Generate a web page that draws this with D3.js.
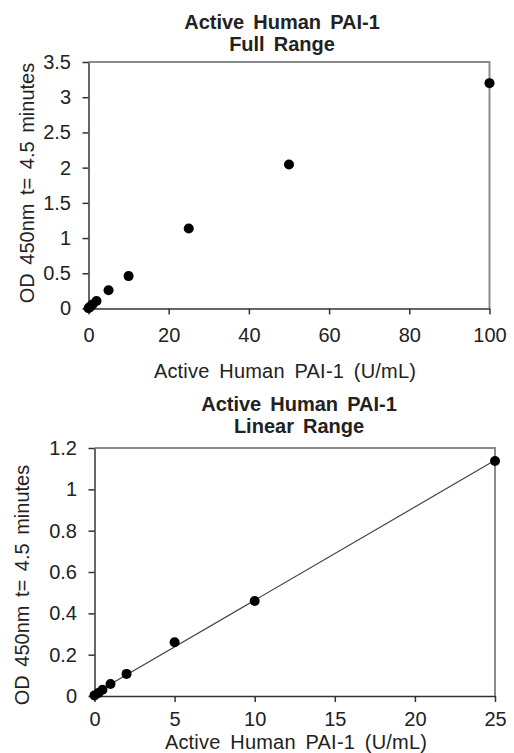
<!DOCTYPE html>
<html>
<head>
<meta charset="utf-8">
<script src="https://cdn.jsdelivr.net/npm/d3@7"></script>
<style>
  body { margin: 0; background: #fff; }
  text { font-family: "Liberation Sans", Arial, sans-serif; fill: #222; }
  .tick text { font-size: 20px; }
  .domain, .tick line { stroke: #333; stroke-width: 1.5; }
</style>
</head>
<body>
<div id="chart"></div>
<script>
// data
var conc = [0, 0.25, 0.5, 1, 2, 5, 10, 25, 50, 100];
var od = [0.003, 0.015, 0.03, 0.058, 0.107, 0.26, 0.46, 1.137, 2.045, 3.2];

var fullXTicks = [0, 20, 40, 60, 80, 100];
var fullYTicks = [0, 0.5, 1, 1.5, 2, 2.5, 3, 3.5];
var linXTicks = [0, 5, 10, 15, 20, 25];
var linYTicks = [0, 0.2, 0.4, 0.6, 0.8, 1, 1.2];

var svg = d3.select("#chart")
  .append("svg")
  .attr("width", 514)
  .attr("height", 753);

function drawPanel(opt) {
  var x = d3.scaleLinear().domain(opt.xDomain).range([opt.left, opt.right]);
  var y = d3.scaleLinear().domain(opt.yDomain).range([opt.bottom, opt.top]);

  var pts = conc.map((c, i) => ({x: c, y: od[i]})).filter(d => d.x <= opt.xDomain[1]);

  // gray frame top / right
  svg.append("path")
    .attr("d", `M${opt.left},${opt.top}H${opt.right}V${opt.bottom}`)
    .attr("fill", "none")
    .attr("stroke", "#8c8c8c")
    .attr("stroke-width", 2);

  svg.append("g")
    .attr("transform", `translate(0, ${opt.bottom})`)
    .call(d3.axisBottom(x).tickValues(opt.xTicks).tickSize(6).tickSizeOuter(0).tickPadding(opt.xPad).tickFormat(d3.format("")));

  svg.append("g")
    .attr("transform", `translate(${opt.left}, 0)`)
    .call(d3.axisLeft(y).tickValues(opt.yTicks).tickSize(6).tickSizeOuter(0).tickPadding(11.5).tickFormat(d3.format("")));

  // trend line (least squares through the points)
  if (opt.trend) {
    var mx = d3.mean(pts, d => d.x), my = d3.mean(pts, d => d.y);
    var slope = d3.sum(pts, d => (d.x - mx) * (d.y - my)) / d3.sum(pts, d => (d.x - mx) * (d.x - mx));
    var icpt = my - slope * mx;
    var xs = [0, opt.xDomain[1]];
    svg.append("line")
      .attr("x1", x(xs[0])).attr("y1", y(icpt + slope * xs[0]))
      .attr("x2", x(xs[1])).attr("y2", y(icpt + slope * xs[1]))
      .attr("stroke", "#444")
      .attr("stroke-width", 1.2);
  }

  svg.selectAll(null)
    .data(pts)
    .enter()
    .append("circle")
    .attr("cx", d => x(d.x))
    .attr("cy", d => y(d.y))
    .attr("r", 5)
    .attr("fill", "#000");

  opt.title.forEach(function(t, i) {
    svg.append("text")
      .attr("x", opt.titleX)
      .attr("y", opt.titleY + i * 22.5)
      .attr("text-anchor", "middle")
      .attr("font-size", "20px")
      .attr("font-weight", "bold")
      .attr("word-spacing", "3.5px")
      .text(t);
  });

  svg.append("text")
    .attr("x", opt.xLabelX)
    .attr("y", opt.xLabelY)
    .attr("text-anchor", "middle")
    .attr("font-size", "20px")
    .attr("word-spacing", "4px")
    .attr("letter-spacing", "0.2px")
    .text("Active Human PAI-1 (U/mL)");

  svg.append("text")
    .attr("transform", `translate(${opt.yLabelX}, ${opt.yLabelY}) rotate(-90)`)
    .attr("text-anchor", "middle")
    .attr("font-size", "20px")
    .attr("word-spacing", "3px")
    .text("OD 450nm t= 4.5 minutes");
}

drawPanel({
  left: 88.5, right: 489.5, top: 62, bottom: 308.5,
  xDomain: [0, 100], yDomain: [0, 3.5],
  xTicks: fullXTicks, yTicks: fullYTicks,
  xPad: 13.5,
  trend: false,
  title: ["Active Human PAI-1", "Full Range"],
  titleX: 282, titleY: 28.5,
  xLabelX: 285, xLabelY: 378,
  yLabelX: 33.5, yLabelY: 183
});

drawPanel({
  left: 94.5, right: 495, top: 448, bottom: 696,
  xDomain: [0, 25], yDomain: [0, 1.2],
  xTicks: linXTicks, yTicks: linYTicks,
  xPad: 9.5,
  trend: true,
  title: ["Active Human PAI-1", "Linear Range"],
  titleX: 299, titleY: 410.5,
  xLabelX: 296, xLabelY: 749,
  yLabelX: 29, yLabelY: 585
});
</script>
</body>
</html>
